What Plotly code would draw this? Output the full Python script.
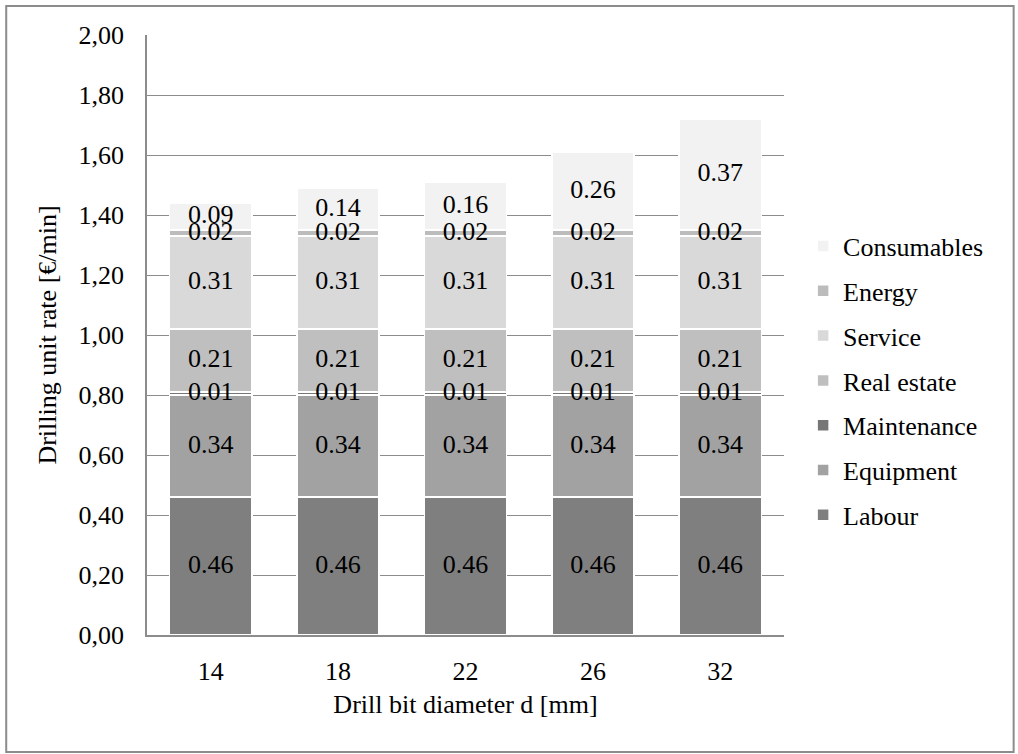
import plotly.graph_objects as go

categories = ["14", "18", "22", "26", "32"]
labour = [0.46, 0.46, 0.46, 0.46, 0.46]
equipment = [0.34, 0.34, 0.34, 0.34, 0.34]
maintenance = [0.01, 0.01, 0.01, 0.01, 0.01]
real_estate = [0.21, 0.21, 0.21, 0.21, 0.21]
service = [0.31, 0.31, 0.31, 0.31, 0.31]
energy = [0.02, 0.02, 0.02, 0.02, 0.02]
consumables = [0.09, 0.14, 0.16, 0.26, 0.37]

series = [
    ("Labour", labour, "#7f7f7f"),
    ("Equipment", equipment, "#a2a2a2"),
    ("Maintenance", maintenance, "#767676"),
    ("Real estate", real_estate, "#bfbfbf"),
    ("Service", service, "#d9d9d9"),
    ("Energy", energy, "#bcbcbc"),
    ("Consumables", consumables, "#f2f2f2"),
]

FONT = "Liberation Serif"
FS = 26

fig = go.Figure()
n = len(series)
for k, (name, vals, col) in enumerate(series):
    fig.add_trace(go.Bar(
        name=name, x=categories, y=vals,
        marker=dict(color=col, line=dict(color="white", width=1.5)),
        legendgroup=name, legendrank=n - k,
        hoverinfo="skip",
    ))

# value labels drawn on top of all bars (centred on each stacked segment)
lx, ly, lt = [], [], []
base = [0.0] * len(categories)
for name, vals, col in series:
    for i, v in enumerate(vals):
        lx.append(categories[i])
        ly.append(base[i] + v / 2)
        lt.append(f"{v:.2f}")
        base[i] += v
fig.add_trace(go.Scatter(
    x=lx, y=ly, text=lt, mode="text", showlegend=False,
    textfont=dict(family=FONT, size=FS, color="black"),
    textposition="middle center", hoverinfo="skip",
))

fig.update_layout(
    barmode="stack", bargap=0.355,
    width=1018, height=754,
    margin=dict(l=147, r=234, t=35, b=119),
    paper_bgcolor="white", plot_bgcolor="white",
    font=dict(family=FONT, size=FS, color="black"),
    separators=",.",
    showlegend=True,
    legend=dict(traceorder="grouped", x=1.03, xanchor="left", y=0.424, yanchor="middle",
                tracegroupgap=8, font=dict(family=FONT, size=FS, color="black"),
                bgcolor="rgba(0,0,0,0)"),
    xaxis=dict(showline=True, linecolor="#8c8c8c", linewidth=1.5, ticks="",
               ticklabelstandoff=12,
               title=dict(text="Drill bit diameter d [mm]", standoff=10,
                          font=dict(family=FONT, size=FS, color="black")),
               tickfont=dict(family=FONT, size=FS, color="black")),
    yaxis=dict(range=[0, 2.0], dtick=0.2, tickformat=".2f", showline=True,
               linecolor="#8c8c8c", linewidth=1.5, gridcolor="#8c8c8c", gridwidth=1,
               ticks="", ticklabelstandoff=16,
               tickfont=dict(family=FONT, size=FS, color="black"),
               title=dict(text="Drilling unit rate [€/min]", standoff=14,
                          font=dict(family=FONT, size=FS, color="black"))),
    shapes=[dict(type="rect", xref="paper", yref="paper",
                 x0=-141/638, x1=(1015-147)/638, y0=-(752-635)/600, y1=(635-6)/600,
                 line=dict(color="#8c8c8c", width=2), fillcolor="rgba(0,0,0,0)")],
)

fig.write_html("out.html")
